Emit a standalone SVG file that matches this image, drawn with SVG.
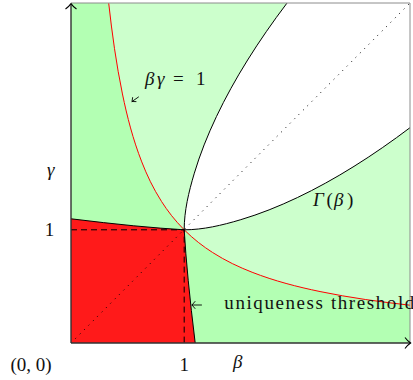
<svg xmlns="http://www.w3.org/2000/svg" width="413" height="380" viewBox="0 0 413 380">
<style>
.lbl{font-family:"Liberation Serif","Times New Roman",serif;font-size:19px;fill:#111}
.it{font-style:italic}
.curve{fill:none;stroke:#000;stroke-width:1}
.ann{fill:none;stroke:#000;stroke-width:0.9;stroke-linecap:round;stroke-linejoin:round}
</style>
<defs>
<clipPath id="plot"><rect x="71" y="3" width="339" height="340"/></clipPath>
</defs>
<rect width="413" height="380" fill="#fff"/>
<g id="regions" clip-path="url(#plot)">
<rect id="light-green" x="71" y="3" width="339" height="340" fill="#ccffcc"/>
<path id="dark-green" fill="#b3ffb3" d="M71,343 L71,0 L108.35,0 L108.73,3.4 C112.09,33.59 116.22,63.77 122.45,93.96 C127.13,116.6 132.91,139.24 141.75,161.88 C146.91,175.09 153.11,188.29 161.56,201.5 C167.6,210.93 174.77,220.37 184.2,229.8 C193.63,239.23 203.07,246.4 212.5,252.44 C225.71,260.89 238.91,267.09 252.12,272.25 C274.76,281.09 297.4,286.87 320.04,291.55 C350.23,297.78 380.41,301.91 410.6,305.27 L413,305.5 L413,343 Z"/>
<path id="white-region" fill="#fff" d="M184.2,229.8 C184.2,210.93 188.69,192.07 194.33,173.2 C199.97,154.33 207.46,135.47 216.43,116.6 C225.4,97.73 235.85,78.87 247.63,60 C259.4,41.13 272.49,22.27 286.76,3.4 L288.8,0 L413,0 L413,125.4 L410.6,127.24 C391.73,141.51 372.87,154.6 354,166.37 C335.13,178.15 316.27,188.6 297.4,197.57 C278.53,206.54 259.67,214.03 240.8,219.67 C221.93,225.31 203.07,229.8 184.2,229.8 Z"/>
<path id="red-region" fill="#ff1a1a" d="M71,343 L71,218.8 Q139,227.2 184.2,229.8 Q186.8,275 195.2,343 Z"/>
</g>
<g id="curves" clip-path="url(#plot)">
<path id="hyperbola" fill="none" stroke="#ff0000" stroke-width="1" d="M108.35,0 L108.73,3.4 C112.09,33.59 116.22,63.77 122.45,93.96 C127.13,116.6 132.91,139.24 141.75,161.88 C146.91,175.09 153.11,188.29 161.56,201.5 C167.6,210.93 174.77,220.37 184.2,229.8 C193.63,239.23 203.07,246.4 212.5,252.44 C225.71,260.89 238.91,267.09 252.12,272.25 C274.76,281.09 297.4,286.87 320.04,291.55 C350.23,297.78 380.41,301.91 410.6,305.27 L413,305.5"/>
<path id="gamma-upper" class="curve" d="M184.2,229.8 C184.2,210.93 188.69,192.07 194.33,173.2 C199.97,154.33 207.46,135.47 216.43,116.6 C225.4,97.73 235.85,78.87 247.63,60 C259.4,41.13 272.49,22.27 286.76,3.4 L288.8,0"/>
<path id="gamma-lower" class="curve" d="M184.2,229.8 C203.07,229.8 221.93,225.31 240.8,219.67 C259.67,214.03 278.53,206.54 297.4,197.57 C316.27,188.6 335.13,178.15 354,166.37 C372.87,154.6 391.73,141.51 410.6,127.24 L413,125.4"/>
<path id="threshold" class="curve" stroke-width="1.1" d="M71,218.8 Q139,227.2 184.2,229.8 Q186.8,275 195.2,343"/>
<path id="dashed" fill="none" stroke="#000" stroke-width="1" stroke-dasharray="6 4" d="M71,229.8 L184.2,229.8 L184.2,343"/>
<path id="diagonal" fill="none" stroke="#000" stroke-width="1" stroke-dasharray="1 5.2" d="M71,343 L410,3"/>
</g>
<g id="axes">
<path d="M71,3 L410,3 L410,343" fill="none" stroke="#8c8c8c" stroke-width="1"/>
<path d="M71,343 L71,4 M71,343 L410.5,343" fill="none" stroke="#333" stroke-width="1.4"/>
<path d="M65.5,9 Q69,6.5 71,3.6 Q73,6.5 76.5,9" fill="none" stroke="#000" stroke-width="1.1"/>
<path d="M405,337.5 Q407.5,341 410.6,343 Q407.5,345 405,348.5" fill="none" stroke="#000" stroke-width="1.1"/>
</g>
<g id="connectors">
<path id="arrow-hyperbola" class="ann" d="M138.5,97 L132,101.5 M132.6,97.6 L132,101.5 L136,101.6"/>
<path id="arrow-threshold" class="ann" d="M201.5,305 L192,305 M195,301.5 L192,305 L195,308.5"/>
</g>
<g id="labels">
<text class="lbl" y="85"><tspan class="it" x="145">β</tspan><tspan class="it" x="157">γ</tspan><tspan x="173">=</tspan><tspan x="196">1</tspan></text>
<text class="lbl" y="206"><tspan class="it" x="313">Γ</tspan><tspan x="326.5">(</tspan><tspan class="it" x="334">β</tspan><tspan x="347">)</tspan></text>
<text class="lbl" x="224.3" y="309.3" font-size="20" textLength="190" lengthAdjust="spacing">uniqueness threshold</text>
<text class="lbl it" x="47" y="175.5">γ</text>
<text class="lbl" x="49.5" y="236" text-anchor="middle">1</text>
<text class="lbl" x="10.5" y="371">(0, 0)</text>
<text class="lbl" x="184.2" y="371" text-anchor="middle">1</text>
<text class="lbl it" x="233" y="367.5">β</text>
</g>
</svg>
